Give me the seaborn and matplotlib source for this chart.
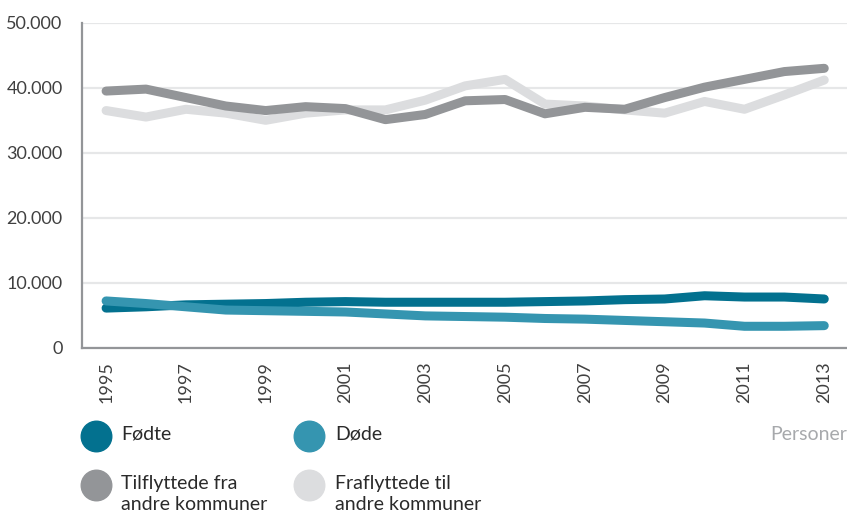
import numpy as np
import pandas as pd
import matplotlib.pyplot as plt
import matplotlib.ticker as mticker
from matplotlib.lines import Line2D
import seaborn as sns

# --- data ---
years = list(range(1995, 2014))
fodte = [6100, 6300, 6600, 6700, 6800, 7000, 7100, 7000, 7000, 7000, 7000, 7100, 7200, 7400, 7500, 8000, 7800, 7800, 7500]
dode = [7200, 6800, 6300, 5800, 5700, 5600, 5500, 5200, 4900, 4800, 4700, 4500, 4400, 4200, 4000, 3800, 3300, 3300, 3400]
tilflyttede = [39500, 39800, 38500, 37200, 36500, 37100, 36800, 35100, 35900, 38000, 38200, 36000, 37000, 36700, 38500, 40100, 41300, 42500, 43000]
fraflyttede = [36500, 35500, 36700, 36100, 35000, 36100, 36600, 36600, 38100, 40300, 41300, 37500, 37200, 36600, 36100, 37900, 36700, 38900, 41200]

series = ["Fraflyttede til\nandre kommuner", "Tilflyttede fra\nandre kommuner", "Fødte", "Døde"]
values = [fraflyttede, tilflyttede, fodte, dode]
colors = ["#dcdddf", "#939598", "#03718f", "#3595b0"]

df = pd.DataFrame({
    "year": years * len(series),
    "value": sum(values, []),
    "serie": np.repeat(series, len(years)),
})

sns.set_style("white")
plt.rcParams["font.family"] = ["Lato", "DejaVu Sans"]

fig = plt.figure(figsize=(8.47, 5.19), dpi=100)
ax = fig.add_axes([0.097, 0.330, 0.903, 0.626])

sns.lineplot(data=df, x="year", y="value", hue="serie", hue_order=series,
             palette=colors, linewidth=6.5, legend=False, ax=ax,
             solid_capstyle="round", solid_joinstyle="round")

ax.set_xlim(1994.4, 2013.57)
ax.set_ylim(0, 50000)
ax.set_yticks(range(0, 50001, 10000))
ax.yaxis.set_major_formatter(mticker.FuncFormatter(lambda v, p: "0" if v == 0 else f"{int(v):,}".replace(",", ".")))
ax.set_xticks(years[::2])
ax.set_xticks(years, minor=True)
ax.set_xticklabels([str(y) for y in years[::2]], rotation=90)
ax.grid(axis="y", color="#e6e7e8", linewidth=1.6)
ax.set_axisbelow(True)
ax.set_xlabel("")
ax.set_ylabel("")

for s in ["top", "right"]:
    ax.spines[s].set_visible(False)
for s in ["left", "bottom"]:
    ax.spines[s].set_color("#939598")
    ax.spines[s].set_linewidth(1.6)

ax.tick_params(axis="x", which="both", direction="out", length=8, width=1.5,
               color="#dcdddf", labelsize=13, labelcolor="#404040", pad=2)
ax.tick_params(axis="y", length=0, labelsize=13, labelcolor="#404040", pad=14)

# --- legend built by hand ---
W, H = 847, 519
legend_items = [
    (96, 436, 121, "Fødte", colors[2]),
    (309, 436, 335, "Døde", colors[3]),
    (96, 485, 121, "Tilflyttede fra\nandre kommuner", colors[1]),
    (309, 485, 335, "Fraflyttede til\nandre kommuner", colors[0]),
]
for cx, cy, tx, label, col in legend_items:
    fig.add_artist(Line2D([cx / W], [1 - cy / H], marker="o", markersize=22,
                          color=col, linestyle="none", transform=fig.transFigure))
    fig.text(tx / W, 1 - (cy - 10) / H, label, fontsize=14, color="#2a2a2a",
             va="top", ha="left", linespacing=1.3)

fig.text(1.0, 1 - 435 / H, "Personer", fontsize=14, color="#a7a9ac",
         ha="right", va="center")

fig.savefig("out.png", dpi=100)
